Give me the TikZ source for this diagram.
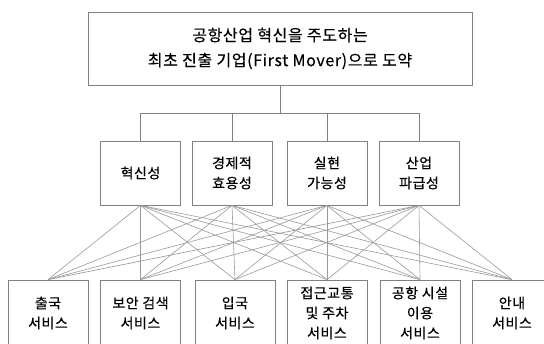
\documentclass[tikz,border=0pt]{standalone}
\usepackage{fontspec}
\setmainfont{Noto Sans CJK KR}[LetterSpace=4, FakeBold=0.4]
\definecolor{framegray}{gray}{0.5}
\definecolor{linkgray}{gray}{0.6}

\begin{document}
\begin{tikzpicture}[x=1pt, y=-1pt, line width=0.8pt,
  box/.style={draw=framegray, fill=white, align=center, inner sep=0pt,
    minimum width=80pt, minimum height=64pt, font=\fontsize{14}{20}\selectfont},
  link/.style={draw=linkgray, line width=0.6pt}]
\clip (0,0) rectangle (544,344);
% 목표
\node[box, minimum width=384pt, minimum height=73pt,
  font=\fontsize{16}{25}\selectfont] (goal) at (280,48.5)
  {공항산업 혁신을 주도하는\\최초 진출 기업(First Mover)으로 도약};

% 평가 기준
\node[box] (m1) at (140.5,173) {혁신성};
\node[box] (m2) at (232,173) {경제적\\효용성};
\node[box] (m3) at (327,173) {실현\\가능성};
\node[box] (m4) at (419,173) {산업\\파급성};

% 서비스
\node[box, minimum height=66pt] (s1) at (48,313) {출국\\서비스};
\node[box, minimum height=66pt] (s2) at (140.5,313) {보안 검색\\서비스};
\node[box, minimum height=66pt] (s3) at (235,313) {입국\\서비스};
\node[box, minimum height=66pt] (s4) at (327,313) {접근교통\\및 주차\\서비스};
\node[box, minimum height=66pt] (s5) at (420,313) {공항 시설\\이용\\서비스};
\node[box, minimum height=66pt] (s6) at (512,313) {안내\\서비스};

\coordinate (hub) at (280,113);
\draw[framegray] (goal.south) -- (hub);
\foreach \i in {1,...,4}
  \draw[framegray] (m\i.north) |- (hub);

\foreach \i in {1,...,4}
  \foreach \j in {1,...,6}
    \draw[link] (m\i.south) -- (s\j.north);
\end{tikzpicture}
\end{document}
